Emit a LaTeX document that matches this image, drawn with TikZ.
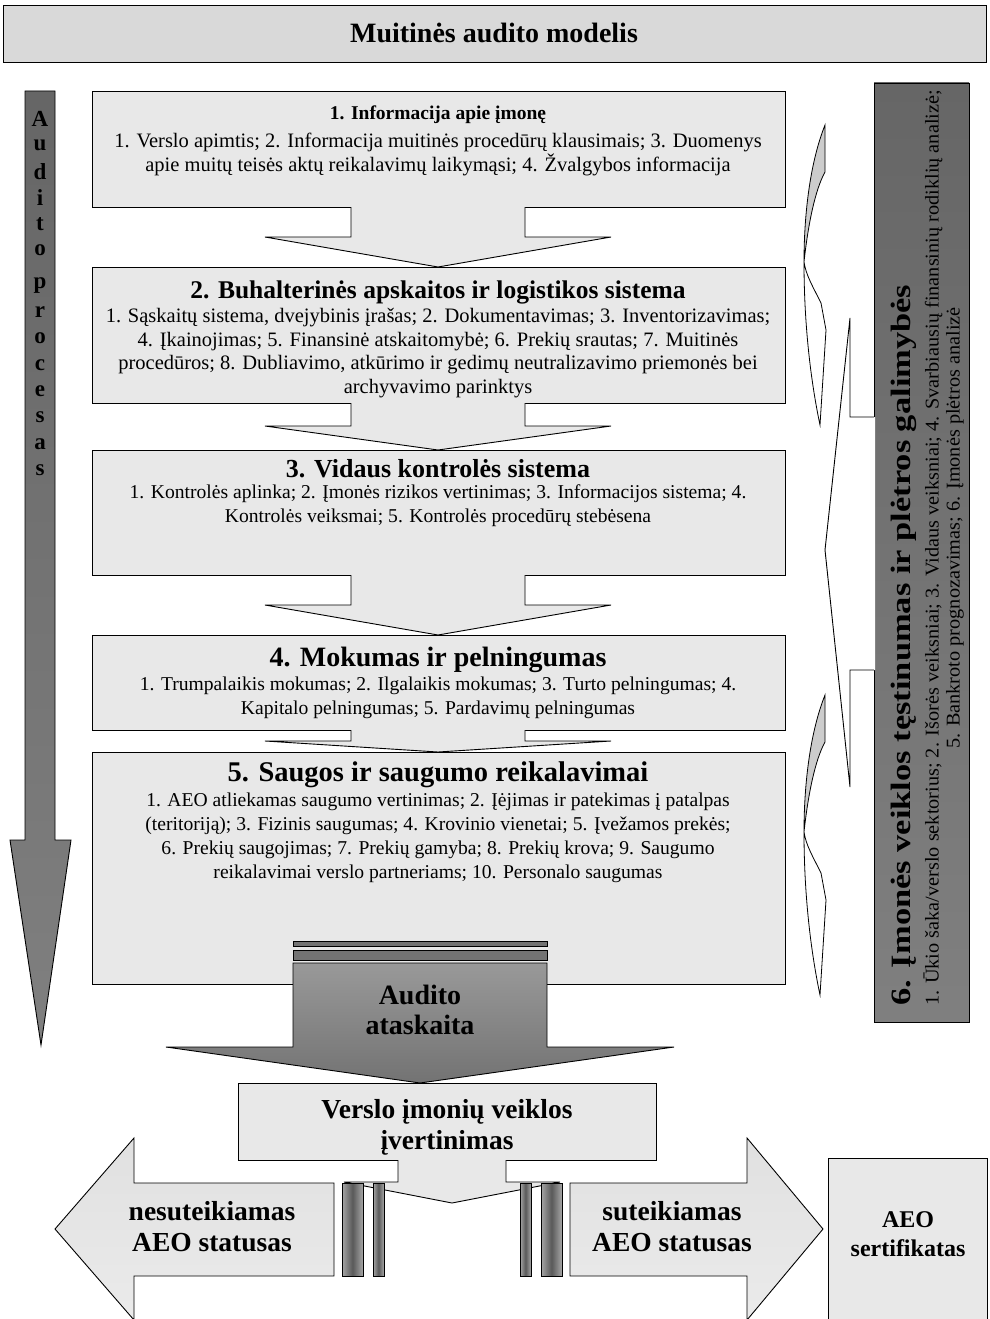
\documentclass[tikz,border=0pt]{standalone}
\usepackage{fontspec}
\setmainfont{Liberation Serif}
\newfontfamily\platus[FakeStretch=1.23]{Liberation Serif}
\newfontfamily\platesnis[FakeStretch=1.04]{Liberation Serif}
\usetikzlibrary{positioning}

\tikzset{
  blokas/.style={draw=black, line width=0.9pt, fill=black!9},
  antraste/.style={font=\bfseries\fontsize{21}{25}\selectfont},
  tekstas/.style={font=\fontsize{19.6}{24}\selectfont, align=center},
  didelis/.style={font=\bfseries\fontsize{27.5}{31}\selectfont, align=center},
}

\begin{document}
\begin{tikzpicture}[x=1pt, y=-1pt, line width=0.9pt]
    \useasboundingbox (0,0) rectangle (989,1319);
    % ZONA 1: antraste virsuje
    % ZONA 2: kairioji rodykle "Audito procesas", blokai 1..5 ir rodykles tarp ju
    % ZONA 3: desinysis blokas 6 su lenktomis rodyklemis
    % ZONA 4: ataskaita, ivertinimas ir AEO statusas apacioje

    % ===== ZONA 1: antraste =====
    \draw[blokas, fill=black!15] (3,5) rectangle (986,62);
    \node[font=\bfseries\fontsize{28}{32}\selectfont] (modelis) at (494,33) {Muitinės audito modelis};

    % ===== ZONA 2: kairioji rodykle =====
    \draw[top color=black!60, middle color=white, bottom color=black!50]
      (25,91) -- (55,91) -- (55,840) -- (71,840) -- (41,1045) -- (10,840) -- (25,840) -- cycle;
    \foreach \rd [count=\i] in {A,u,d,i,t,o} {
      \node[font=\bfseries\fontsize{23}{26}\selectfont] (raideA\i) at (40, {119+26.3*(\i-1)}) {\rd};
    }
    \foreach \rd [count=\i] in {p,r,o,c,e,s,a,s} {
      \node[font=\bfseries\fontsize{23}{26}\selectfont] (raideP\i) at (40, {286+26.3*(\i-1)}) {\rd};
    }

    % blokai 1..5 (x=92..785)
    \draw[blokas] (92,91)  rectangle (785,207);
    \draw[blokas] (92,267) rectangle (785,403);
    \draw[blokas] (92,450) rectangle (785,575);
    \draw[blokas] (92,635) rectangle (785,730);
    \draw[blokas] (92,752) rectangle (785,984);

    % rodykles zemyn tarp bloku -- centras x=438
    \foreach \ya/\yb/\yc in {207/237/267, 403/426/450, 575/605/635, 730/741/752} {
      \fill[black!9] (351,{\ya-1.5}) -- (351,\yb) -- (265,\yb) -- (438,\yc) -- (611,\yb) -- (525,\yb) -- (525,{\ya-1.5}) -- cycle;
      \draw (351,\ya) -- (351,\yb) -- (265,\yb) -- (438,\yc) -- (611,\yb) -- (525,\yb) -- (525,\ya);
    }

    % 1. blokas
    \node[antraste, font=\bfseries\fontsize{19.5}{23}\selectfont] (b1t) at (438,115) {1. Informacija apie įmonę};
    \node[tekstas, font=\fontsize{20.5}{24}\selectfont] (b1x) at (438,154)
      {1. Verslo apimtis; 2. Informacija muitinės procedūrų klausimais; 3. Duomenys\\
       apie muitų teisės aktų reikalavimų laikymąsi; 4. Žvalgybos informacija};

    % 2. blokas
    \node[antraste, font=\bfseries\fontsize{25.5}{29}\selectfont] (b2t) at (438,292) {2. Buhalterinės apskaitos ir logistikos sistema};
    \node[tekstas, font=\fontsize{20.5}{23.5}\selectfont] (b2x) at (438,353)
      {1. Sąskaitų sistema, dvejybinis įrašas; 2. Dokumentavimas; 3. Inventorizavimas;\\
       4. Įkainojimas; 5. Finansinė atskaitomybė; 6. Prekių srautas; 7. Muitinės\\
       procedūros; 8. Dubliavimo, atkūrimo ir gedimų neutralizavimo priemonės bei\\
       archyvavimo parinktys};

    % 3. blokas
    \node[antraste, font=\bfseries\fontsize{26}{30}\selectfont] (b3t) at (438,469) {3. Vidaus kontrolės sistema};
    \node[tekstas] (b3x) at (438,506)
      {1. Kontrolės aplinka; 2. Įmonės rizikos vertinimas; 3. Informacijos sistema; 4.\\
       Kontrolės veiksmai; 5. Kontrolės procedūrų stebėsena};

    % 4. blokas
    \node[antraste, font=\bfseries\fontsize{28}{32}\selectfont] (b4t) at (438,660) {4. Mokumas ir pelningumas};
    \node[tekstas] (b4x) at (438,698)
      {1. Trumpalaikis mokumas; 2. Ilgalaikis mokumas; 3. Turto pelningumas; 4.\\
       Kapitalo pelningumas; 5. Pardavimų pelningumas};

    % 5. blokas
    \node[antraste, font=\bfseries\fontsize{28.5}{32}\selectfont] (b5t) at (438,775) {5. Saugos ir saugumo reikalavimai};
    \node[tekstas] (b5x) at (438,838)
      {1. AEO atliekamas saugumo vertinimas; 2. Įėjimas ir patekimas į patalpas\\
       (teritoriją); 3. Fizinis saugumas; 4. Krovinio vienetai; 5. Įvežamos prekės;\\
       6. Prekių saugojimas; 7. Prekių gamyba; 8. Prekių krova; 9. Saugumo\\
       reikalavimai verslo partneriams; 10. Personalo saugumas};

    % ===== ZONA 3: 6. blokas desineje =====
    \draw[top color=black!60, middle color=white, bottom color=black!50] (874,83) rectangle (969,1022);
    \node[rotate=90, font=\platus\bfseries\fontsize{28}{30}\selectfont] (b6t) at (904,645)
      {6. Įmonės veiklos tęstinumas ir plėtros galimybės};
    \node[rotate=90, font=\platesnis\fontsize{19.5}{22}\selectfont] (b6x) at (933,548)
      {1. Ūkio šaka/verslo sektorius; 2. Išorės veiksniai; 3. Vidaus veiksniai; 4. Svarbiausių finansinių rodiklių analizė;};
    \node[rotate=90, font=\platesnis\fontsize{19.5}{22}\selectfont] (b6y) at (955,528)
      {5. Bankroto prognozavimas; 6. Įmonės plėtros analizė};

    % didele rodykle i kaire
    \fill[white] (875,417) -- (850,417) -- (850,318) -- (825,550) -- (850,787) -- (850,670) -- (875,670) -- cycle;
    \draw (874,417) -- (850,417) -- (850,318) -- (825,550) -- (850,787) -- (850,670) -- (874,670);

    % lenktos rodykles
    \foreach \dy in {0,570} {
      \begin{scope}[shift={(0,\dy)}, line width=0.8pt]
        \filldraw[fill=black!20] (825,125) .. controls (811,160) and (804,210) .. (804,262)
          .. controls (808,225) and (815,190) .. (825,172) -- cycle;
        \filldraw[fill=white] (804,262) .. controls (804,335) and (813,392) .. (820,425)
          -- (826,330) -- (821,303) .. controls (812,285) and (806,275) .. (804,262) -- cycle;
      \end{scope}
    }

    % ===== ZONA 4: ataskaita ir ivertinimas =====
    \draw[fill=black!55] (293,941) rectangle (547,946);
    \draw[fill=black!55] (293,950) rectangle (547,960);
    \draw[top color=black!40, middle color=black!5, bottom color=black!55]
      (293,963) -- (547,963) -- (547,1047) -- (674,1047) -- (420,1083) -- (166,1047) -- (293,1047) -- cycle;
    \node[didelis, font=\bfseries\fontsize{28}{30}\selectfont] (ataskaita) at (420,1010) {Audito\\ataskaita};

    \draw[blokas] (238,1083) rectangle (656,1160);
    \node[didelis] (ivertinimas) at (447,1127)
      {Verslo įmonių veiklos\\įvertinimas};
    \fill[black!9] (398,1158.5) -- (398,1182) -- (344,1182) -- (452,1203) -- (560,1182) -- (506,1182) -- (506,1158.5) -- cycle;
    \draw (398,1160) -- (398,1182) -- (344,1182) -- (452,1203) -- (560,1182) -- (506,1182) -- (506,1160);

    % juostos salia
    \foreach \xa/\xb in {342/363, 373/384, 520/531, 541/562} {
      \draw[left color=black!35, right color=black!35, middle color=black!65] (\xa,1183) rectangle (\xb,1276);
    }

    % AEO statusas
    \draw[top color=black!12, middle color=black!60, bottom color=black!8]
      (334,1183) -- (134,1183) -- (134,1138) -- (55,1229) -- (134,1320) -- (134,1276) -- (334,1276) -- cycle;
    \node[didelis] (nesuteikiamas) at (212,1227) {nesuteikiamas\\AEO statusas};

    \draw[top color=black!12, middle color=black!60, bottom color=black!8]
      (570,1183) -- (747,1183) -- (747,1138) -- (823,1229) -- (747,1320) -- (747,1276) -- (570,1276) -- cycle;
    \node[didelis] (suteikiamas) at (672,1227) {suteikiamas\\AEO statusas};

    \draw[blokas] (828,1158) rectangle (987,1330);
    \node[didelis, font=\bfseries\fontsize{24}{29}\selectfont] (sertifikatas) at (908,1234) {AEO\\sertifikatas};

  \end{tikzpicture}
\end{document}
